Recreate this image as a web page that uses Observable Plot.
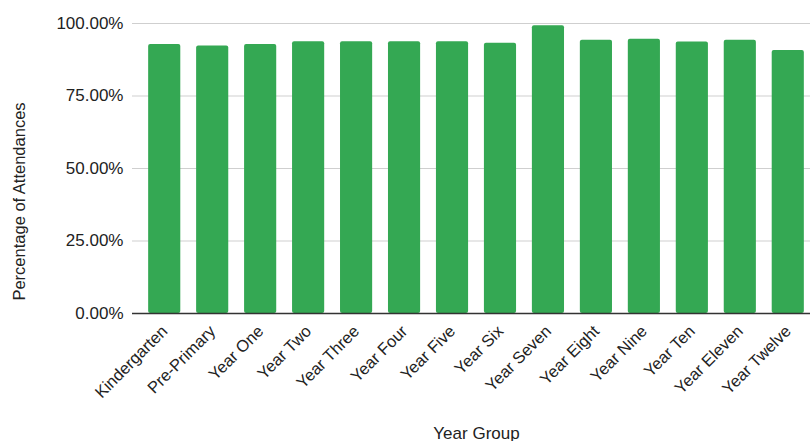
<!DOCTYPE html>
<html>
<head>
<meta charset="utf-8">
<script src="https://cdn.jsdelivr.net/npm/d3@7"></script>
<script src="https://cdn.jsdelivr.net/npm/@observablehq/plot@0.6"></script>
<style>
  html, body { margin: 0; padding: 0; background: #fff; }
  #chart svg { display: block; }
</style>
</head>
<body>
<div id="chart"></div>
<script>
const categories = ["Kindergarten", "Pre-Primary", "Year One", "Year Two", "Year Three", "Year Four", "Year Five", "Year Six", "Year Seven", "Year Eight", "Year Nine", "Year Ten", "Year Eleven", "Year Twelve"];
const attendance = [92.8, 92.2, 92.8, 93.7, 93.7, 93.7, 93.7, 93.2, 99.2, 94.2, 94.6, 93.6, 94.2, 90.7];
const yTicks = [0, 25, 50, 75, 100];
const xTitle = "Year Group";
const yTitle = "Percentage of Attendances";

const data = categories.map((c, i) => ({group: c, value: attendance[i]}));

const chart = Plot.plot({
  width: 810,
  height: 441,
  marginTop: 23,
  marginLeft: 140,
  marginRight: -2,
  marginBottom: 128,
  style: {fontFamily: "Arial, 'Liberation Sans', sans-serif", fontSize: "17px", color: "#222"},
  x: {domain: categories, paddingInner: 0.33, paddingOuter: 0.17, round: false, label: null},
  y: {domain: [0, 100], label: null},
  marks: [
    Plot.ruleY(yTicks.slice(1), {stroke: "#cfcfcf", strokeWidth: 1.2, insetLeft: -8, strokeOpacity: 1}),
    Plot.barY(data, {x: "group", y: "value", fill: "#34a853", rx: 2}),
    Plot.ruleY([0], {stroke: "#333", strokeWidth: 1.3, insetLeft: -8}),
    Plot.axisY({ticks: yTicks, tickSize: 0, tickPadding: 17, tickFormat: d => d.toFixed(2) + "%", fontSize: 17, fill: "#222", label: null}),
    Plot.axisX({tickSize: 0, tickPadding: 15, tickRotate: -45, fontSize: 16.5, fill: "#222", label: null}),
    Plot.text([yTitle], {frameAnchor: "left", textAnchor: "middle", rotate: -90, dx: -121, dy: 33, fontSize: 16.5, fill: "#222"}),
    Plot.text([xTitle], {frameAnchor: "bottom", dy: 125, fontSize: 17, fill: "#222"})
  ]
});
document.getElementById("chart").appendChild(chart);
</script>
</body>
</html>
